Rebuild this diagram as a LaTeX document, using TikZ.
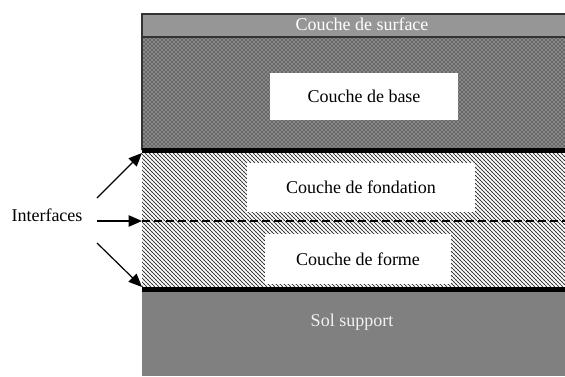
\documentclass[tikz,border=0pt]{standalone}
\usepackage{fontspec}
\setmainfont{Liberation Serif}
\usepackage{tikz}
\usetikzlibrary{positioning,calc,arrows.meta,patterns}
\definecolor{surfgray}{RGB}{150,150,150}
\definecolor{solgray}{RGB}{128,128,128}
\def\pxu{0.75pt}
\tikzset{
  figfont/.style={font=\fontsize{13.5}{16}\selectfont},
  figlabel/.style={fill=white, inner sep=0pt, align=center},
  figarrow/.style={-{Triangle[length=10pt, width=8.5pt]}, line width=0.9pt},
  figsep/.style={line width=3.8pt, black},
}
\begin{document}
\begin{tikzpicture}[figfont, x=\pxu, y=\pxu]
  \useasboundingbox (0,0) rectangle (565,376);

  % Layers, bottom to top
  \fill[solgray] (142,0) rectangle (570,86);
  \fill[white] (142,86) rectangle (570,226);
  \fill[pattern=north west lines, pattern color=black] (142,86) rectangle (570,226);
  \fill[pattern=crosshatch dots, pattern color=black!60] (142,86) rectangle (570,226);
  \fill[black!60] (142,226) rectangle (570,339);
  \fill[pattern=crosshatch dots, pattern color=white] (142,226) rectangle (570,339);
  \fill[surfgray] (142,339) rectangle (570,362);
  \draw[line width=1.5pt, black!80] (142,226) -- (142,362) -- (570,362);
  \draw[line width=1.5pt, black!80] (142,339) -- (570,339);

  % Interfaces
  \draw[figsep] (142,225.5) -- (570,225.5);
  \draw[dash pattern=on 6pt off 3pt, line width=0.8pt] (142,155) -- (570,155);
  \draw[figsep] (142,86.5) -- (570,86.5);

  % Layer names
  \node[text=white] (surf) at (362,352) {Couche de surface};
  \node[figlabel, minimum width=188*\pxu, minimum height=47*\pxu] (base) at (364,279.5) {Couche de base};
  \node[figlabel, minimum width=228*\pxu, minimum height=49*\pxu] (fond) at (361,188.5) {Couche de fondation};
  \node[figlabel, minimum width=186*\pxu, minimum height=50*\pxu] (forme) at (358,117) {Couche de forme};
  \node[text=gray!10] (sol) at (352,54) {Sol support};

  % Interface arrows
  \node (itf) at (47,161) {Interfaces};
  \coordinate (tA) at (97,178);
  \coordinate (tB) at (97,155);
  \coordinate (tC) at (97,133);
  \coordinate (ifA) at (142,223);
  \coordinate (ifB) at (142,155);
  \coordinate (ifC) at (142,89);
  \draw[figarrow] (tA) -- (ifA);
  \draw[figarrow] (tB) -- (ifB);
  \draw[figarrow] (tC) -- (ifC);
\end{tikzpicture}
\end{document}
